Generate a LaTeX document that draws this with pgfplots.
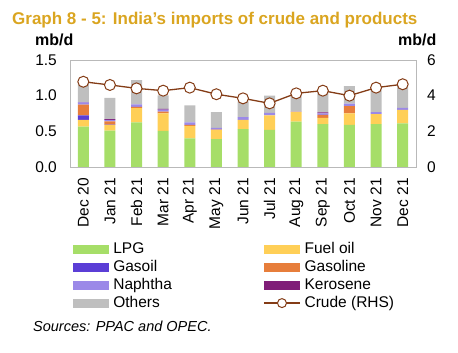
\documentclass[border=0pt]{standalone}
\usepackage{fontspec}
\setmainfont{Liberation Sans}
\usepackage{pgfplots}
\usepackage{pgfplotstable}
\pgfplotsset{compat=1.18}
\definecolor{titlec}{RGB}{218,165,32}
\definecolor{clpg}{RGB}{166,222,104}
\definecolor{cfo}{RGB}{255,207,87}
\definecolor{cgo}{RGB}{91,62,214}
\definecolor{cgs}{RGB}{231,126,59}
\definecolor{cna}{RGB}{155,137,232}
\definecolor{cke}{RGB}{128,30,120}
\definecolor{cot}{RGB}{191,191,191}
\definecolor{ccr}{RGB}{132,60,22}
\definecolor{frame}{RGB}{185,185,185}
\pgfplotsset{crudeleg/.style={legend image code/.code={\draw[ccr, line width=1.3pt] (0pt,0pt) -- (36pt,0pt); \draw[ccr, line width=1pt, fill=white] (18pt,0pt) circle[radius=4.5pt];}}}
\pgfplotstableread{
x lpg fo go gs na ke ot cr
0 0.565 0.095 0.065 0.150 0.030 0.005 0.260 4.78
1 0.510 0.080 0.005 0.045 0.020 0.010 0.300 4.60
2 0.627 0.200 0.000 0.015 0.035 0.000 0.340 4.41
3 0.505 0.245 0.000 0.025 0.030 0.010 0.190 4.28
4 0.400 0.175 0.000 0.015 0.035 0.000 0.240 4.45
5 0.390 0.130 0.000 0.005 0.025 0.000 0.220 4.08
6 0.530 0.130 0.000 0.000 0.040 0.000 0.220 3.85
7 0.520 0.205 0.000 0.000 0.035 0.000 0.240 3.57
8 0.635 0.140 0.000 0.000 0.010 0.000 0.245 4.13
9 0.600 0.090 0.000 0.040 0.020 0.015 0.315 4.28
10 0.590 0.160 0.000 0.105 0.035 0.000 0.245 4.00
11 0.600 0.140 0.000 0.000 0.030 0.000 0.330 4.45
12 0.610 0.190 0.000 0.000 0.030 0.000 0.320 4.64
}\data
\begin{document}
\begin{tikzpicture}
\path[use as bounding box] (0pt,0pt) rectangle (458pt,353pt);
\node[anchor=base west, font=\fontsize{17}{20}\selectfont\bfseries, text=titlec, inner sep=0pt] at (12pt,328pt) {Graph 8 - 5: India’s imports of crude and products};
\node[anchor=base west, font=\fontsize{16}{19}\selectfont\bfseries, inner sep=0pt] at (35pt,307pt) {mb/d};
\node[anchor=base west, font=\fontsize{16}{19}\selectfont\bfseries, inner sep=0pt] at (398pt,307pt) {mb/d};
\node[anchor=base west, font=\fontsize{14.5}{17}\selectfont\itshape, inner sep=0pt] at (33pt,21pt) {Sources: PPAC and OPEC.};
\begin{axis}[
  at={(70pt,186pt)}, anchor=south west, scale only axis,
  width=346pt, height=107pt,
  ybar stacked, bar width=11pt,
  xmin=-0.5, xmax=12.5, ymin=0, ymax=1.5,
  ytick={0,0.5,1,1.5}, yticklabels={0.0,0.5,1.0,1.5},
  xtick={0,...,12},
  xticklabels={Dec 20,Jan 21,Feb 21,Mar 21,Apr 21,May 21,Jun 21,Jul 21,Aug 21,Sep 21,Oct 21,Nov 21,Dec 21},
  xticklabel style={rotate=90, anchor=east, inner sep=0pt},
  xticklabel shift=11pt,
  yticklabel style={anchor=east, inner sep=0pt},
  yticklabel shift=13pt,
  tick label style={font=\fontsize{15.5}{18}\selectfont},
  major tick length=0pt,
  axis line style={draw=frame},
  legend image code/.code={\fill[#1] (0pt,-4.5pt) rectangle (36pt,4.5pt);},
  legend cell align=left,
  legend columns=2,
  legend style={at={(0.009,-0.70)}, anchor=north west, draw=none, fill=none,
    font=\fontsize{15.5}{18}\selectfont, inner sep=0pt, row sep=4pt,
    /tikz/every odd column/.append style={column sep=4pt},
    nodes={inner sep=0pt, text height=11pt, text depth=3pt}},
]
\addplot[fill=clpg, draw=none] table[x=x,y=lpg]{\data};
\addplot[fill=cfo, draw=none] table[x=x,y=fo]{\data};
\addplot[fill=cgo, draw=none] table[x=x,y=go]{\data};
\addplot[fill=cgs, draw=none] table[x=x,y=gs]{\data};
\addplot[fill=cna, draw=none] table[x=x,y=na]{\data};
\addplot[fill=cke, draw=none] table[x=x,y=ke]{\data};
\addplot[fill=cot, draw=none] table[x=x,y=ot]{\data};
\addlegendimage{crudeleg}
\legend{\makebox[150pt][l]{LPG},Fuel oil,\makebox[150pt][l]{Gasoil},Gasoline,\makebox[150pt][l]{Naphtha},Kerosene,\makebox[150pt][l]{Others},Crude (RHS)}
\end{axis}
\begin{axis}[
  at={(70pt,186pt)}, anchor=south west, scale only axis,
  width=346pt, height=107pt,
  xmin=-0.5, xmax=12.5, ymin=0, ymax=6,
  axis x line=none, axis y line*=right,
  ytick={0,2,4,6}, yticklabels={0,2,4,6},
  yticklabel style={anchor=west, inner sep=0pt},
  yticklabel shift=11pt,
  tick label style={font=\fontsize{15.5}{18}\selectfont},
  major tick length=0pt,
  axis line style={draw=frame},
]
\addplot[color=ccr, line width=1.3pt, mark=*, mark size=5.5pt, mark options={fill=white, draw=ccr, line width=1pt}] table[x=x,y=cr]{\data};
\end{axis}
\end{tikzpicture}
\end{document}
